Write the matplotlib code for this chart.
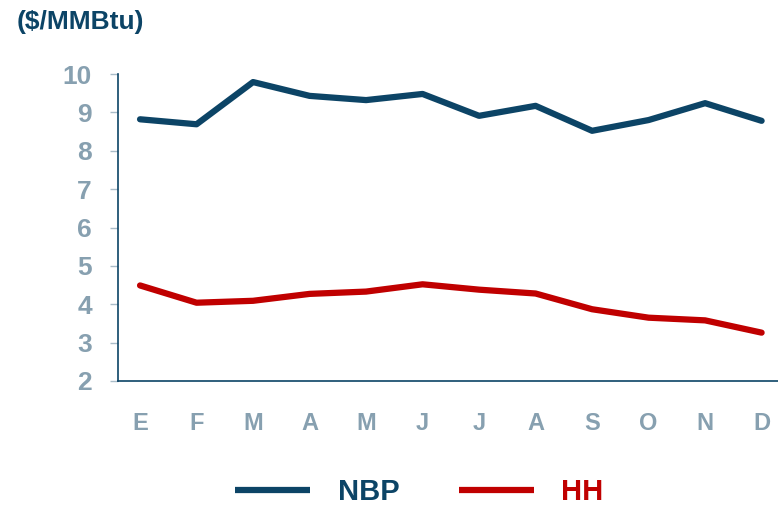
import matplotlib.pyplot as plt

# monthly prices ($/MMBtu)
months = ['E', 'F', 'M', 'A', 'M', 'J', 'J', 'A', 'S', 'O', 'N', 'D']
nbp = [8.82, 8.69, 9.79, 9.43, 9.32, 9.48, 8.91, 9.17, 8.52, 8.80, 9.24, 8.78]
hh = [4.49, 4.04, 4.09, 4.27, 4.33, 4.52, 4.38, 4.28, 3.87, 3.65, 3.58, 3.26]
y_ticks = [2, 3, 4, 5, 6, 7, 8, 9, 10]

navy = '#0c4466'
red = '#c00000'
grey = '#87a0b0'

fig = plt.figure(figsize=(7.78, 5.07), dpi=100)
ax = fig.add_axes([118 / 778, 1 - 381 / 507, 1 - 118 / 778, (381 - 74) / 507])

x = list(range(len(months)))
ax.plot(x, nbp, color=navy, lw=4.5, label='NBP', solid_capstyle='round')
ax.plot(x, hh, color=red, lw=4.5, label='HH', solid_capstyle='round')

ax.set_ylim(2, 10)
ax.set_xlim(-0.39, 11.29)
ax.set_yticks(y_ticks)
ax.set_xticks(x)
ax.set_xticklabels(months)

for side in ['top', 'right']:
    ax.spines[side].set_visible(False)
for side in ['left', 'bottom']:
    ax.spines[side].set_color(navy)
    ax.spines[side].set_linewidth(1.2)

ax.tick_params(axis='y', length=5.8, width=1, color='#a9bcc8', pad=13,
               labelsize=19, labelcolor=grey)
ax.tick_params(axis='x', length=0, pad=22, labelsize=17, labelcolor=grey)
for lbl in ax.get_yticklabels() + ax.get_xticklabels():
    lbl.set_fontweight('bold')
    lbl.set_fontfamily('Liberation Sans')

fig.text(17 / 778, 1 - 22 / 507, '($/MMBtu)', fontsize=19, fontweight='bold',
         color=navy, family='Liberation Sans', ha='left', va='center')

leg = fig.legend(loc='center', bbox_to_anchor=(0.539, 1 - 492 / 507), ncol=2,
                 frameon=False, handlelength=2.57, handletextpad=0.93,
                 columnspacing=2.05, labelcolor='linecolor',
                 prop={'family': 'Liberation Sans', 'weight': 'bold', 'size': 21})
for line in leg.get_lines():
    line.set_solid_capstyle('butt')

fig.savefig('out.png', dpi=100)
